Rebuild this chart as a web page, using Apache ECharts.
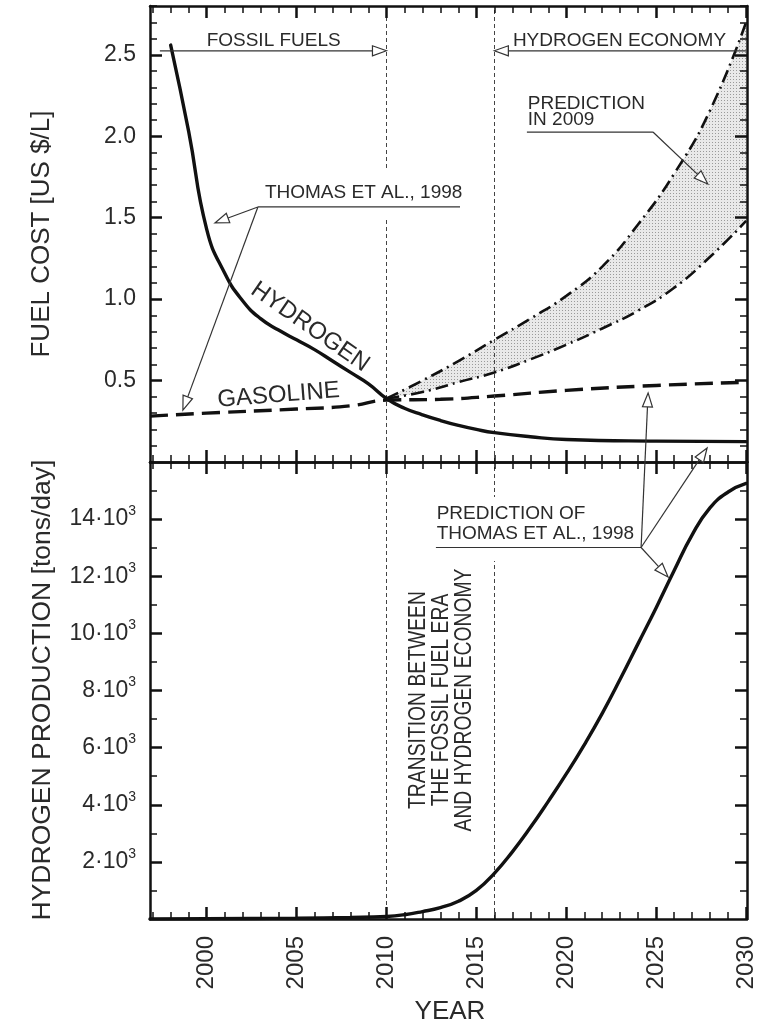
<!DOCTYPE html>
<html>
<head>
<meta charset="utf-8">
<script src="https://cdn.jsdelivr.net/npm/echarts@6/dist/echarts.min.js"></script>
<style>html,body{margin:0;padding:0;background:#fff}#c{width:761px;height:1025px}</style>
</head>
<body>
<div id="c"></div>
<script>
// ---------------- data ----------------
const yearTicks = [2000, 2005, 2010, 2015, 2020, 2025, 2030];
const costTicks = [0.5, 1.0, 1.5, 2.0, 2.5];
const prodTicks = [2000, 4000, 6000, 8000, 10000, 12000, 14000];
const transitionYears = [2010, 2016];

const h2CostYears = [1998, 1999, 2000, 2001, 2002, 2003, 2004, 2005, 2006, 2007, 2008, 2009, 2010, 2011, 2012, 2013, 2014, 2015, 2016, 2018, 2020, 2025, 2030];
const h2Cost      = [2.56, 2.03, 1.43, 1.16, 0.99, 0.88, 0.81, 0.75, 0.69, 0.62, 0.55, 0.48, 0.39, 0.33, 0.29, 0.255, 0.225, 0.20, 0.18, 0.155, 0.138, 0.128, 0.125];

const gasYears = [1996.85, 2000, 2005, 2008, 2010, 2013, 2016, 2020, 2025, 2030.05];
const gasCost  = [0.282, 0.300, 0.325, 0.345, 0.380, 0.385, 0.405, 0.440, 0.470, 0.490];

const predYears = [2010, 2012, 2014, 2016, 2018, 2020, 2022, 2024, 2026, 2028, 2030];
const predLow   = [0.39, 0.43, 0.49, 0.55, 0.63, 0.72, 0.82, 0.93, 1.07, 1.26, 1.48];
const predHigh  = [0.39, 0.50, 0.62, 0.75, 0.88, 1.02, 1.20, 1.46, 1.77, 2.16, 2.70];

const prodYears = [1996.85, 2000, 2005, 2008, 2010, 2011, 2012, 2013, 2014, 2015, 2016, 2017, 2018, 2019, 2020, 2021, 2022, 2023, 2024, 2025, 2026, 2027, 2028, 2029, 2030];
const h2Prod    = [0, 10, 30, 55, 90, 150, 260, 400, 620, 1000, 1600, 2350, 3200, 4120, 5080, 6100, 7200, 8400, 9650, 10900, 12200, 13450, 14400, 14950, 15250];

// ---------------- helpers ----------------
const FONT = '"Liberation Sans", Arial, Helvetica, sans-serif';
const INK = '#111';
const TXT = '#2a2a2a';
const X_MIN = 1996.85, X_MAX = 2030.05;
const zip = (xs, ys) => xs.map((x, i) => [x, ys[i]]);

const yearMinor = []; for (let y = 1997; y <= 2030; y++) if (y % 5) yearMinor.push(y);
const costMinor = []; for (let i = 1; i <= 28; i++) if (i % 5) costMinor.push(+(i / 10).toFixed(1));
const prodMinor = []; for (let v = 1000; v < 16000; v += 2000) prodMinor.push(v);

// dotted fill texture for the 2009-prediction band
const pc = document.createElement('canvas'); pc.width = 3; pc.height = 3;
const pcx = pc.getContext('2d');
pcx.fillStyle = '#e9e9e9'; pcx.fillRect(0, 0, 3, 3);
pcx.fillStyle = '#9a9a9a'; pcx.fillRect(1, 1, 1, 1);

function axis(g, pos, major, ticks, line, label, extent) {
  return {
    gridIndex: g, type: 'value', position: pos, min: extent[0], max: extent[1], z: 10,
    splitLine: { show: false },
    axisLine: { show: line, onZero: false, lineStyle: { color: INK, width: 2.5 } },
    axisTick: { show: true, inside: true, length: major ? 12 : 7, customValues: ticks,
      lineStyle: { color: INK, width: major ? 2.5 : 1.5 } },
    axisLabel: label || { show: false }
  };
}

const xLabel = { show: true, rotate: 90, margin: 17, fontSize: 24, color: TXT, fontFamily: FONT,
  customValues: yearTicks, formatter: v => String(v) };
const costLabel = { show: true, margin: 14, fontSize: 23, color: TXT, fontFamily: FONT,
  customValues: costTicks, formatter: v => v.toFixed(1) };
const prodLabel = { show: true, margin: 14, color: TXT, fontFamily: FONT,
  customValues: prodTicks, formatter: v => '{a|' + (v / 1000) + '·10}{b|3}',
  rich: { a: { fontSize: 23, color: TXT, fontFamily: FONT, lineHeight: 30 },
          b: { fontSize: 14, color: TXT, fontFamily: FONT, verticalAlign: 'top', lineHeight: 14 } } };

const XE = [X_MIN, X_MAX], CE = [0, 2.8], PE = [0, 16000];
const xAxes = [], yAxes = [];
[0, 1].forEach(g => {
  xAxes.push(axis(g, 'bottom', true, yearTicks, true, g === 1 ? xLabel : null, XE));
  xAxes.push(axis(g, 'bottom', false, yearMinor, false, null, XE));
  xAxes.push(axis(g, 'top', true, yearTicks, true, null, XE));
  xAxes.push(axis(g, 'top', false, yearMinor, false, null, XE));
  const E = g === 0 ? CE : PE, M = g === 0 ? costTicks : prodTicks, m = g === 0 ? costMinor : prodMinor;
  yAxes.push(axis(g, 'left', true, M, true, g === 0 ? costLabel : prodLabel, E));
  yAxes.push(axis(g, 'left', false, m, false, null, E));
  yAxes.push(axis(g, 'right', true, M, true, null, E));
  yAxes.push(axis(g, 'right', false, m, false, null, E));
});

const vLines = {
  silent: true, symbol: 'none', label: { show: false },
  lineStyle: { type: [4, 3], color: '#444', width: 1 },
  data: transitionYears.map(y => ({ xAxis: y })), animation: false
};

const lineBase = { type: 'line', symbol: 'none', showSymbol: false, smooth: 0.5, animation: false, silent: true };

const option = {
  animation: false,
  backgroundColor: '#fff',
  grid: [
    { left: 150, right: 14, top: 6, height: 456 },
    { left: 150, right: 14, top: 462, height: 457 }
  ],
  xAxis: xAxes,
  yAxis: yAxes,
  series: [
    // shaded band: dotted area under the upper curve, masked by a white area under the lower curve
    Object.assign({}, lineBase, { name: 'bandUpper', xAxisIndex: 0, yAxisIndex: 0,
      data: zip(predYears, predHigh), lineStyle: { color: 'rgba(0,0,0,0)', width: 1 },
      areaStyle: { color: { image: pc, repeat: 'repeat' }, opacity: 1 }, z: 1 }),
    Object.assign({}, lineBase, { name: 'bandMask', xAxisIndex: 0, yAxisIndex: 0,
      data: zip(predYears, predLow), lineStyle: { color: 'rgba(0,0,0,0)', width: 1 },
      areaStyle: { color: '#ffffff', opacity: 1 }, z: 2 }),
    Object.assign({}, lineBase, { name: 'Prediction 2009 low', xAxisIndex: 0, yAxisIndex: 0,
      data: zip(predYears, predLow), lineStyle: { color: INK, width: 2.6, type: [13, 5, 2, 5] }, z: 3 }),
    Object.assign({}, lineBase, { name: 'Prediction 2009 high', xAxisIndex: 0, yAxisIndex: 0,
      data: zip(predYears, predHigh), lineStyle: { color: INK, width: 2.6, type: [13, 5, 2, 5] }, z: 3 }),
    Object.assign({}, lineBase, { name: 'Gasoline', xAxisIndex: 0, yAxisIndex: 0,
      data: zip(gasYears, gasCost), lineStyle: { color: INK, width: 3.4, type: [18, 8] }, z: 4 }),
    Object.assign({}, lineBase, { name: 'Hydrogen cost', xAxisIndex: 0, yAxisIndex: 0,
      data: zip(h2CostYears, h2Cost), lineStyle: { color: INK, width: 3.4, cap: 'round' }, z: 5,
      markLine: vLines }),
    Object.assign({}, lineBase, { name: 'Hydrogen production', xAxisIndex: 4, yAxisIndex: 4,
      data: zip(prodYears, h2Prod), lineStyle: { color: INK, width: 3.4, cap: 'round' }, z: 5,
      markLine: vLines })
  ]
};

const chart = echarts.init(document.getElementById('c'));
chart.setOption(option);

// ---------------- annotations (positioned in data coordinates) ----------------
const P0 = (x, y) => chart.convertToPixel({ xAxisIndex: 0, yAxisIndex: 0 }, [x, y]);
const P1 = (x, y) => chart.convertToPixel({ xAxisIndex: 4, yAxisIndex: 4 }, [x, y]);
const G = [];
const STROKE = '#333';
function seg(a, b) { G.push({ type: 'line', z: 110, silent: true, shape: { x1: a[0], y1: a[1], x2: b[0], y2: b[1] }, style: { stroke: STROKE, lineWidth: 1.2 } }); }
function arrow(a, b) {
  const dx = b[0] - a[0], dy = b[1] - a[1], L = Math.hypot(dx, dy), ux = dx / L, uy = dy / L;
  const hl = 14, hw = 5, bx = b[0] - ux * hl, by = b[1] - uy * hl;
  seg(a, [bx, by]);
  G.push({ type: 'polygon', z: 111, silent: true,
    shape: { points: [[b[0], b[1]], [bx - uy * hw, by + ux * hw], [bx + uy * hw, by - ux * hw]] },
    style: { fill: '#fff', stroke: STROKE, lineWidth: 1.2 } });
}
function text(p, str, size, opt) {
  opt = opt || {};
  G.push({ type: 'text', z: 112, silent: true, x: p[0], y: p[1], rotation: opt.rot || 0,
    scaleX: opt.sx || 1,
    style: { text: str, fill: TXT, fontSize: size, fontFamily: FONT,
      align: opt.align || 'left', textAlign: opt.align || 'left',
      verticalAlign: 'middle', textVerticalAlign: 'middle', lineHeight: opt.lh || size } });
}
function box(a, b) {
  G.push({ type: 'rect', z: 105, silent: true, shape: { x: a[0], y: a[1], width: b[0] - a[0], height: b[1] - a[1] }, style: { fill: '#fff' } });
}

// era arrows
text(P0(2000.0, 2.587), 'FOSSIL FUELS', 19);
arrow(P0(1997.4, 2.525), P0(2010, 2.525));
text(P0(2017.03, 2.587), 'HYDROGEN ECONOMY', 19);
arrow(P0(2030.0, 2.525), P0(2016, 2.525));

// prediction in 2009
text(P0(2017.86, 2.201), 'PREDICTION', 19);
text(P0(2017.86, 2.100), 'IN 2009', 19);
seg(P0(2017.81, 2.026), P0(2024.82, 2.026));
arrow(P0(2024.82, 2.026), P0(2027.87, 1.707));

// Thomas et al. 1998 (top)
box(P0(2002.74, 1.805), P0(2014.42, 1.498));
text(P0(2003.24, 1.652), 'THOMAS ET AL., 1998', 19);
seg(P0(2002.85, 1.566), P0(2014.09, 1.566));
arrow(P0(2002.85, 1.566), P0(2000.46, 1.468));
arrow(P0(2002.85, 1.566), P0(1998.68, 0.319));

// curve labels
text(P0(2005.75, 0.829), 'HYDROGEN', 24, { align: 'center', rot: -35 * Math.PI / 180 });
text(P0(2004.0, 0.410), 'GASOLINE', 24, { align: 'center', rot: 4.5 * Math.PI / 180 });

// prediction of Thomas et al. (bottom)
box(P1(2012.64, 14771), P1(2024.32, 12534));
text(P1(2012.79, 14197), 'PREDICTION OF', 19);
text(P1(2012.79, 13497), 'THOMAS ET AL., 1998', 19);
seg(P1(2012.75, 13007), P1(2024.16, 13007));
const o = P1(2024.16, 13007);
arrow(o, P1(2025.66, 11974));
arrow(o, P0(2024.55, 0.424));
arrow(o, P0(2027.83, 0.086));

// transition text
text(P1(2013.06, 7667), 'TRANSITION BETWEEN\nTHE FOSSIL FUEL ERA\nAND HYDROGEN ECONOMY', 23,
  { align: 'center', rot: Math.PI / 2, sx: 0.84, lh: 23 });

// axis titles
G.push({ type: 'text', z: 112, silent: true, x: 42, y: 234, rotation: Math.PI / 2,
  style: { text: 'FUEL COST [US $/L]', fill: TXT, fontSize: 26, fontFamily: FONT, align: 'center', textAlign: 'center', verticalAlign: 'middle', textVerticalAlign: 'middle' } });
G.push({ type: 'text', z: 112, silent: true, x: 43, y: 690, rotation: Math.PI / 2,
  style: { text: 'HYDROGEN PRODUCTION [tons/day]', fill: TXT, fontSize: 26.5, fontFamily: FONT, align: 'center', textAlign: 'center', verticalAlign: 'middle', textVerticalAlign: 'middle' } });
G.push({ type: 'text', z: 112, silent: true, x: 450, y: 1012,
  style: { text: 'YEAR', fill: TXT, fontSize: 26, fontFamily: FONT, align: 'center', textAlign: 'center', verticalAlign: 'middle', textVerticalAlign: 'middle' } });

chart.setOption({ graphic: { elements: G } });
</script>
</body>
</html>
